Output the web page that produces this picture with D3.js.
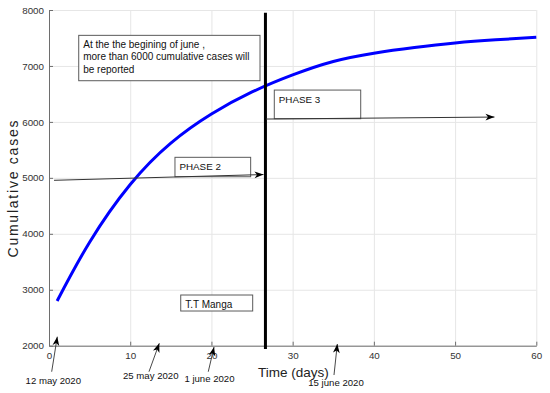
<!DOCTYPE html>
<html>
<head>
<meta charset="utf-8">
<script src="https://cdn.jsdelivr.net/npm/d3@7"></script>
<style>
  body { margin: 0; background: #fff; }
  svg { display: block; font-family: Arial, "Liberation Sans", Helvetica, sans-serif; }
</style>
</head>
<body>
<svg id="chart" width="550" height="393"></svg>
<script>
// curve (day, cumulative cases)
var days  = [1, 5, 10, 15, 20, 25, 30, 35, 40, 45, 50, 55, 60];
var cases = [2800, 3850, 4880, 5620, 6140, 6535, 6840, 7080, 7228, 7330, 7411, 7468, 7512];

var xTicks = [0, 10, 20, 30, 40, 50, 60];
var yTicks = [2000, 3000, 4000, 5000, 6000, 7000, 8000];

var phaseDay = 26.65; // vertical separator

// note box text
var noteLines = ["At the the begining of june ,", "more than 6000 cumulative cases will", "be reported"];

// boxes: [day0, day1, top value, bottom value]
var noteBox   = [3.66, 25.98, 7547, 6736];
var phase2Box = [15.51, 24.83, 5367, 5020];
var phase3Box = [27.74, 38.38, 6569, 6057];
var authorBox = [16.22, 25.08, 2906, 2620];

// phase arrows: tail day, tail value, tip day, tip value
var phaseArrows = [
  [0.62, 4956, 26.41, 5059],
  [26.72, 6051, 54.85, 6087]
];

// date markers
var dateLabels = ["12 may 2020", "25 may 2020", "1 june 2020", "15 june 2020"];
var dateTips   = [[1.02, 2161], [13.58, 2043], [20.32, 1977], [35.5, 2030]];
var dateTails  = [[0.33, 1535], [12.31, 1535], [19.61, 1535], [35.09, 1476]];
var dateText   = [[0.53, 1310], [12.53, 1405], [19.76, 1357], [35.34, 1285]];

var svg = d3.select("#chart");

var x = d3.scaleLinear().domain([0, 60]).range([49, 536.3]);
var y = d3.scaleLinear().domain([2000, 8000]).range([345.7, 10]);

// arrowhead
svg.append("defs").append("marker")
    .attr("id", "head")
    .attr("markerUnits", "userSpaceOnUse")
    .attr("viewBox", "-10 -5 12 10")
    .attr("refX", 0).attr("refY", 0)
    .attr("markerWidth", 12).attr("markerHeight", 10)
    .attr("orient", "auto")
    .append("path")
    .attr("d", "M0,0 L-9,-3.4 L-6.5,0 L-9,3.4 Z")
    .attr("fill", "#000");

// grid
svg.append("g")
    .attr("transform", "translate(0," + y(2000) + ")")
    .call(d3.axisBottom(x).tickValues(xTicks).tickSize(-(y(2000) - y(8000))).tickFormat(""))
    .call(function (g) {
      g.select(".domain").remove();
      g.selectAll("line").attr("stroke", "#e6e6e6");
    });
svg.append("g")
    .attr("transform", "translate(" + x(0) + ",0)")
    .call(d3.axisLeft(y).tickValues(yTicks).tickSize(-(x(60) - x(0))).tickFormat(""))
    .call(function (g) {
      g.select(".domain").remove();
      g.selectAll("line").attr("stroke", "#e6e6e6");
    });

// axes, ticks point inward
svg.append("g")
    .attr("transform", "translate(0," + y(2000) + ")")
    .call(d3.axisBottom(x).tickValues(xTicks).tickFormat(d3.format("d"))
      .tickSizeInner(-4).tickSizeOuter(0).tickPadding(6.5))
    .call(function (g) {
      g.select(".domain").attr("stroke", "#6e6e6e");
      g.selectAll("line").attr("stroke", "#6e6e6e");
      g.selectAll("text").attr("fill", "#333").style("font-size", "9.8px").attr("font-family", null);
    });
svg.append("g")
    .attr("transform", "translate(" + x(0) + ",0)")
    .call(d3.axisLeft(y).tickValues(yTicks).tickFormat(d3.format("d"))
      .tickSizeInner(-4).tickSizeOuter(0).tickPadding(5))
    .call(function (g) {
      g.select(".domain").attr("stroke", "#6e6e6e");
      g.selectAll("line").attr("stroke", "#6e6e6e");
      g.selectAll("text").attr("fill", "#333").style("font-size", "9.8px").attr("font-family", null);
    });

// axis titles
svg.append("text")
    .attr("x", 258).attr("y", 376.5)
    .style("font-size", "13.5px").attr("fill", "#222")
    .text("Time (days)");
svg.append("text")
    .attr("transform", "translate(17.5,189) rotate(-90)")
    .attr("text-anchor", "middle")
    .attr("textLength", 137).attr("lengthAdjust", "spacing")
    .style("font-size", "14px").attr("fill", "#222")
    .text("Cumulative  cases");

// model curve
var line = d3.line()
    .x(function (d, i) { return x(days[i]); })
    .y(function (d) { return y(d); })
    .curve(d3.curveNatural);
svg.append("path")
    .datum(cases)
    .attr("d", line)
    .attr("fill", "none")
    .attr("stroke", "#0000ff")
    .attr("stroke-width", 3);

// phase separator
svg.append("line")
    .attr("x1", x(phaseDay)).attr("x2", x(phaseDay))
    .attr("y1", y(7950)).attr("y2", y(1940))
    .attr("stroke", "#000").attr("stroke-width", 3);

// boxes
function box(b, lines, size) {
  var g = svg.append("g");
  g.append("rect")
    .attr("x", x(b[0])).attr("y", y(b[2]))
    .attr("width", x(b[1]) - x(b[0])).attr("height", y(b[3]) - y(b[2]))
    .attr("fill", "#fff").attr("stroke", "#5a5a5a").attr("stroke-width", 1);
  lines.forEach(function (t, i) {
    g.append("text")
      .attr("x", x(b[0]) + 4.5).attr("y", y(b[2]) + 12.6 + i * 12.4)
      .style("font-size", size + "px").attr("fill", "#111")
      .text(t);
  });
}
box(noteBox, noteLines, 10);
box(phase2Box, ["PHASE 2"], 9.8);
box(phase3Box, ["PHASE 3"], 9.8);
box(authorBox, ["T.T Manga"], 10);

// phase arrows
svg.selectAll(".phase-arrow")
  .data(phaseArrows)
  .enter().append("line")
    .attr("class", "phase-arrow")
    .attr("x1", function (d) { return x(d[0]); })
    .attr("y1", function (d) { return y(d[1]); })
    .attr("x2", function (d) { return x(d[2]); })
    .attr("y2", function (d) { return y(d[3]); })
    .attr("stroke", "#333").attr("stroke-width", 1)
    .attr("marker-end", "url(#head)");

// date arrows
svg.selectAll(".date-arrow")
  .data(dateLabels)
  .enter().append("line")
    .attr("class", "date-arrow")
    .attr("x1", function (d, i) { return x(dateTails[i][0]); })
    .attr("y1", function (d, i) { return y(dateTails[i][1]); })
    .attr("x2", function (d, i) { return x(dateTips[i][0]); })
    .attr("y2", function (d, i) { return y(dateTips[i][1]); })
    .attr("stroke", "#333").attr("stroke-width", 0.9)
    .attr("marker-end", "url(#head)");

svg.selectAll(".date-label")
  .data(dateLabels)
  .enter().append("text")
    .attr("class", "date-label")
    .attr("x", function (d, i) { return x(dateText[i][0]); })
    .attr("y", function (d, i) { return y(dateText[i][1]); })
    .attr("text-anchor", "middle")
    .style("font-size", "9.6px").attr("fill", "#111")
    .text(function (d) { return d; });
</script>
</body>
</html>
